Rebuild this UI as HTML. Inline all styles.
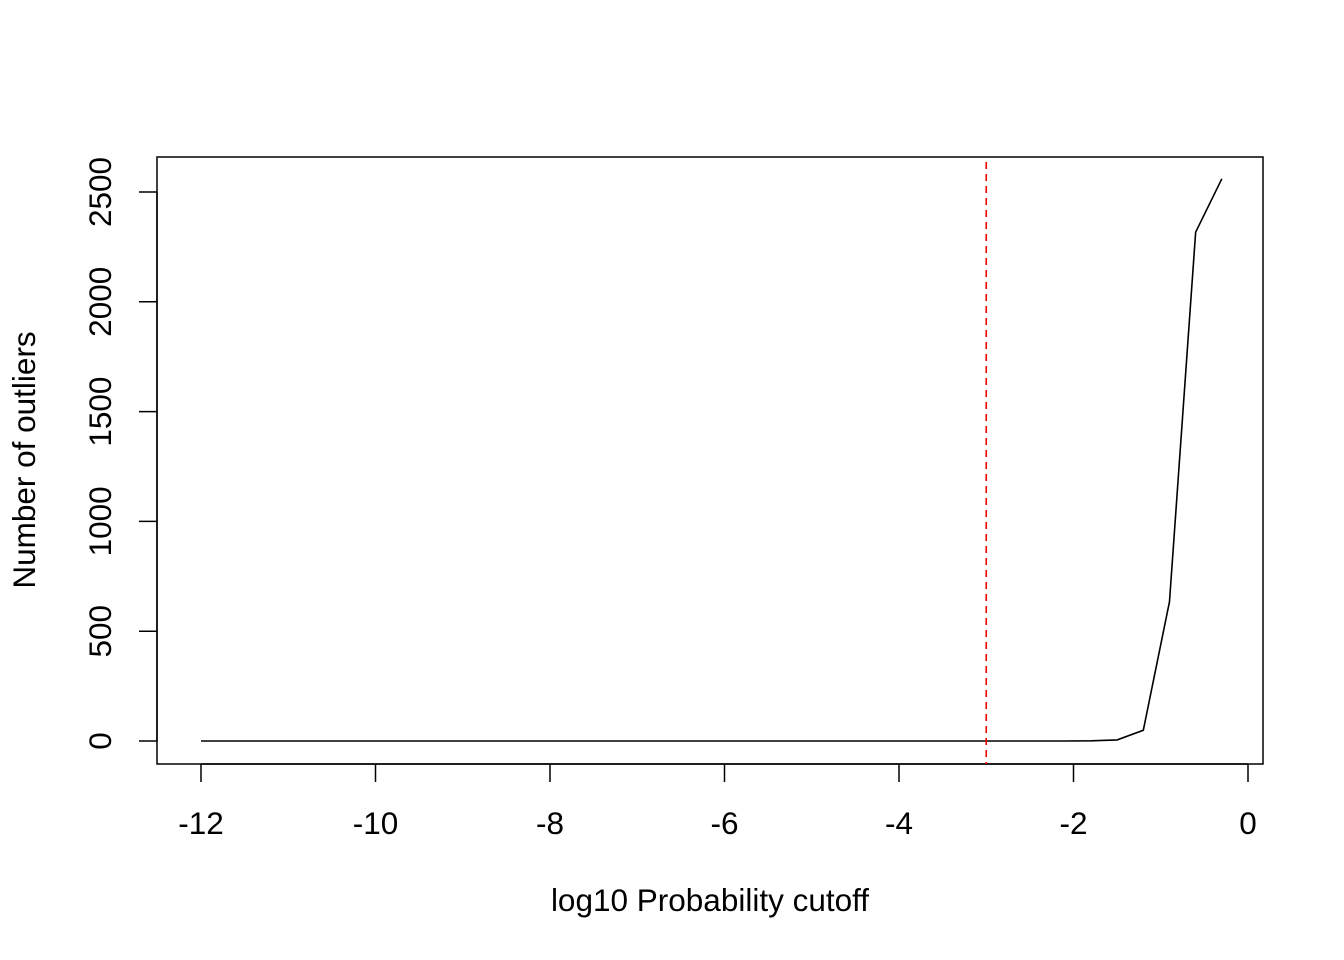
<!DOCTYPE html>
<html><head><meta charset="utf-8"><style>body{margin:0;background:#fff}svg{display:block}text{font-family:"Liberation Sans",Arial,sans-serif;fill:#000}</style></head>
<body>
<svg id="chart" width="1344" height="960">
<rect x="157" y="157" width="1106" height="607" fill="none" stroke="#000" stroke-width="1.5"/>
<g id="xaxis"></g>
<g id="yaxis"></g>
<g id="marks"></g>
<text x="710" y="911" font-size="31.5" text-anchor="middle">log10 Probability cutoff</text>
<text transform="translate(35,460) rotate(-90)" font-size="31.5" text-anchor="middle">Number of outliers</text>
</svg>
<script>
const xTicks=[-12,-10,-8,-6,-4,-2,0];
const yTicks=[0,500,1000,1500,2000,2500];
const cutoff=-3;
const xVals=[];for(let i=0;i<40;i++)xVals.push(-12+0.3*i);
const yVals=[0,0,0,0,0,0,0,0,0,0,0,0,0,0,0,0,0,0,0,0,0,0,0,0,0,0,0,0,0,0,0,0,0,0,1,5,49,634,2317,2560];
const NS="http://www.w3.org/2000/svg";
const sx=v=>201+(v+12)*(1047/12);
const sy=v=>741-v*(549/2500);
function mk(t,a,p){const e=document.createElementNS(NS,t);for(const k in a)e.setAttribute(k,a[k]);p.appendChild(e);return e;}
const xa=document.getElementById('xaxis'),ya=document.getElementById('yaxis'),m=document.getElementById('marks');
mk('line',{x1:sx(-12),x2:sx(0),y1:764,y2:764,stroke:'#000','stroke-width':1.5},xa);
xTicks.forEach(v=>{mk('line',{x1:sx(v),x2:sx(v),y1:764,y2:782,stroke:'#000','stroke-width':1.5},xa);
const t=mk('text',{x:sx(v),y:834,'font-size':31.5,'text-anchor':'middle'},xa);t.textContent=v;

});
mk('line',{x1:157,x2:157,y1:sy(0),y2:sy(2500),stroke:'#000','stroke-width':1.5},ya);
yTicks.forEach(v=>{mk('line',{x1:139,x2:157,y1:sy(v),y2:sy(v),stroke:'#000','stroke-width':1.5},ya);
const t=mk('text',{transform:`translate(111,${sy(v)}) rotate(-90)`,'font-size':31.5,'text-anchor':'middle'},ya);t.textContent=v;

});
const pl=mk('polyline',{points:xVals.map((x,i)=>sx(x)+','+sy(yVals[i])).join(' '),fill:'none',stroke:'#000','stroke-width':1.6},m);


const cl=mk('line',{x1:sx(cutoff),x2:sx(cutoff),y1:162,y2:764,stroke:'#e00','stroke-width':1.6,'stroke-dasharray':'7,5'},m);


</script>
</body></html>
